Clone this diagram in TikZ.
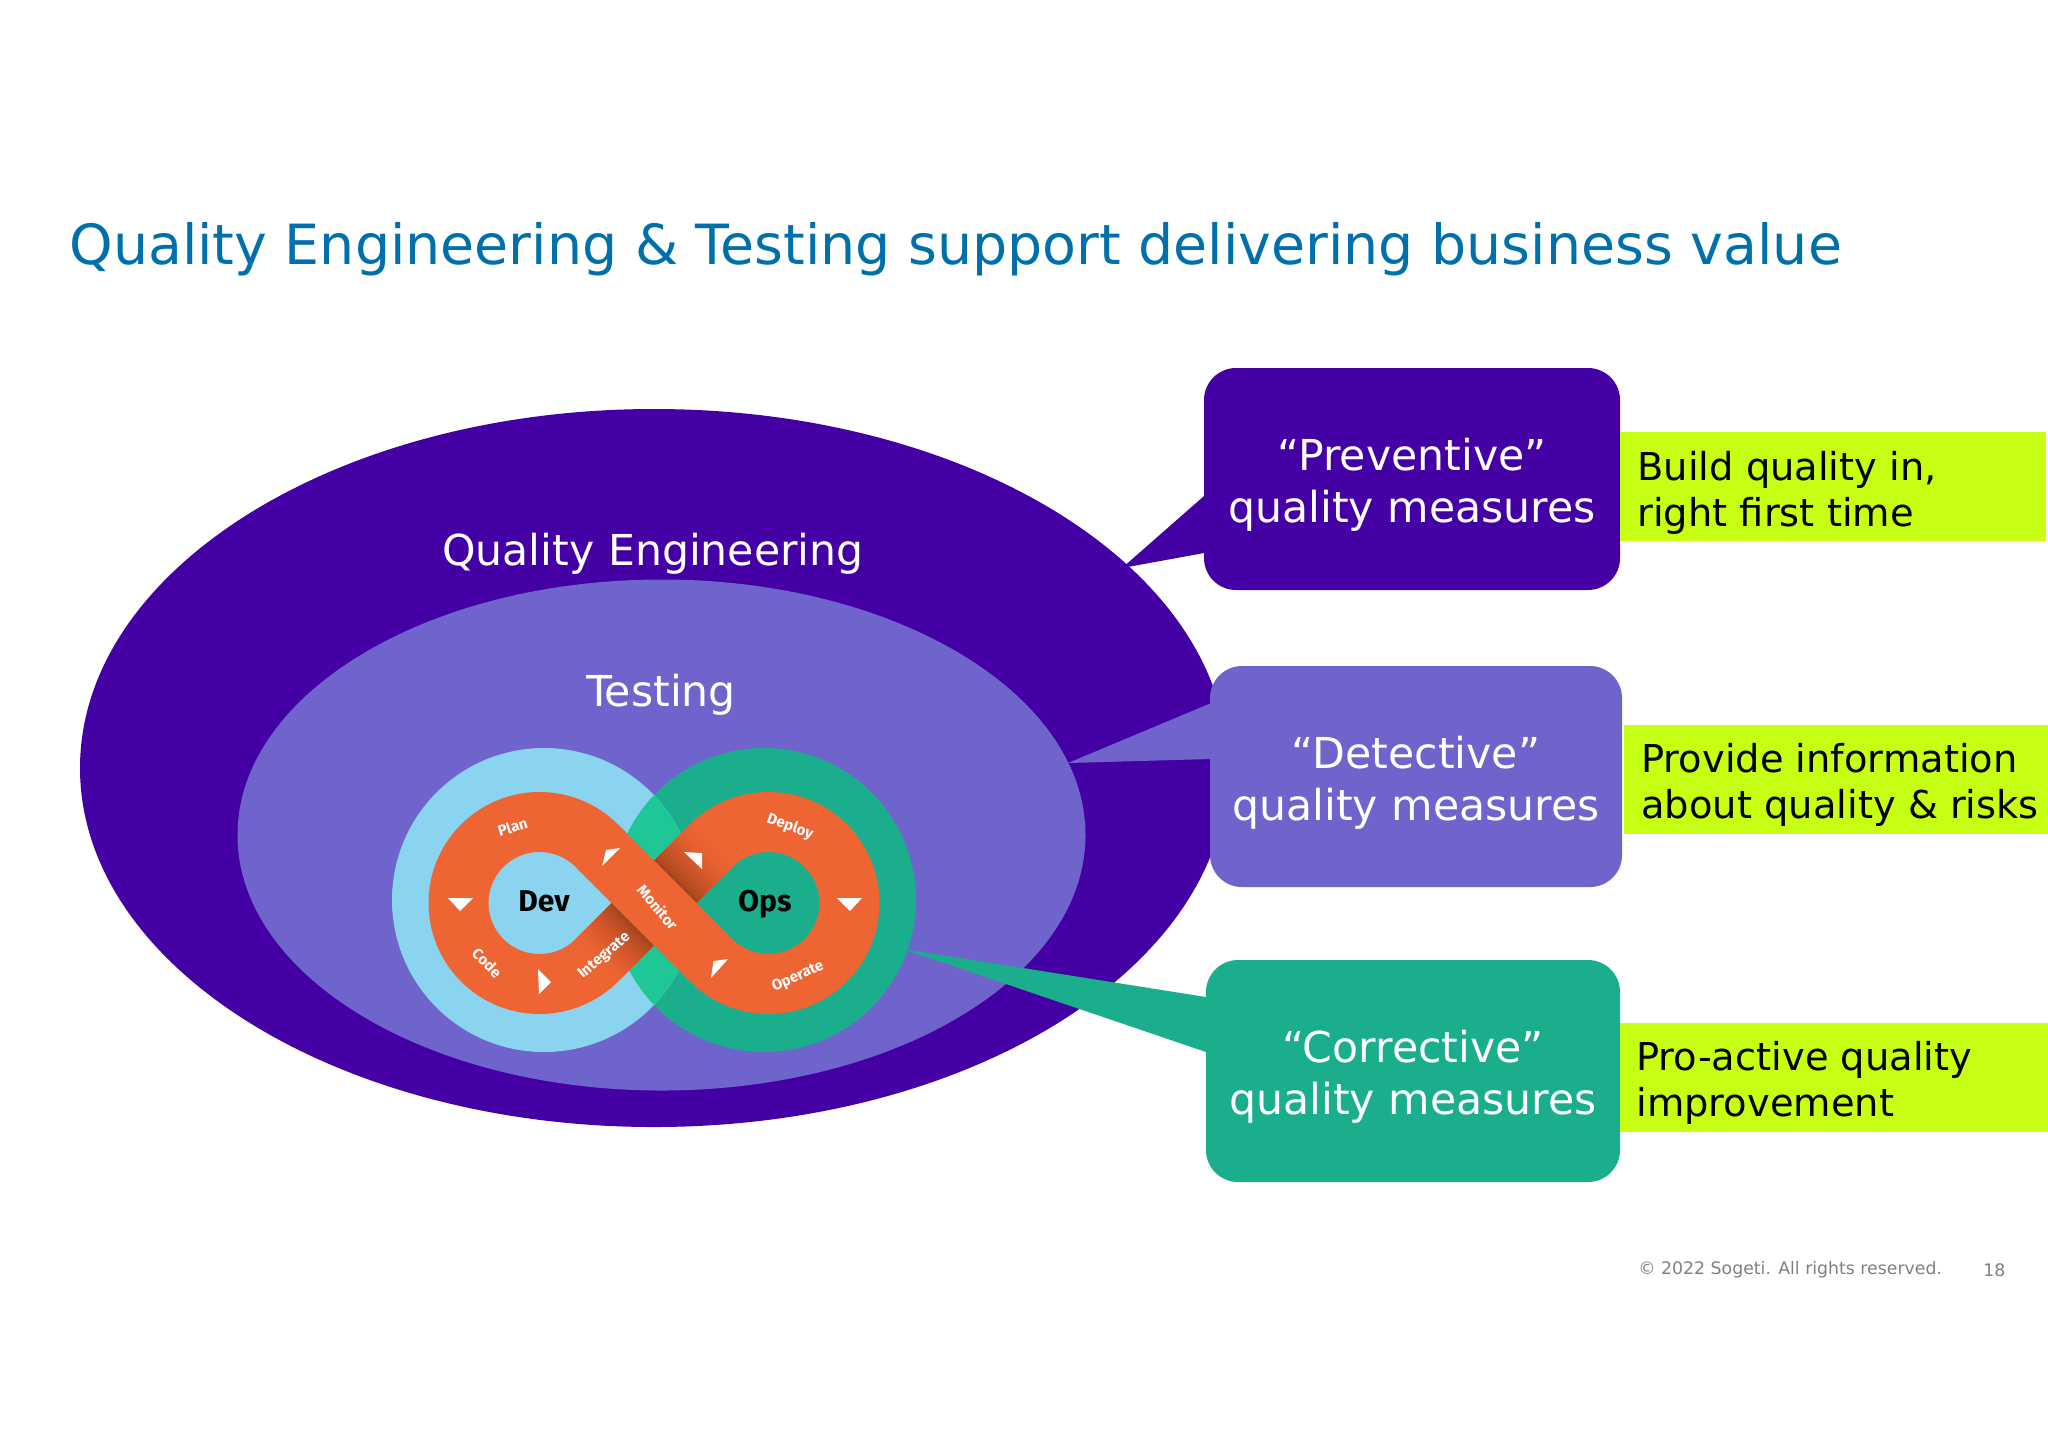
\documentclass[tikz,border=0pt]{standalone}
\usepackage{fontspec}
\setmainfont{DejaVu Sans}
\newfontfamily\logof{Fira Sans}
\usetikzlibrary{shapes.geometric}
\definecolor{qeC}{HTML}{4400A5}
\definecolor{tsC}{HTML}{6F63CC}
\definecolor{tealC}{HTML}{1BAE8D}
\definecolor{lensC}{HTML}{1FC796}
\definecolor{skyC}{HTML}{8BD4F0}
\definecolor{orC}{HTML}{EF6433}
\definecolor{brC}{HTML}{A8451E}
\definecolor{limeC}{HTML}{C6FF14}
\definecolor{titleC}{HTML}{0070AD}
\definecolor{footC}{HTML}{7F7F7F}
\tikzset{
  mycall/.style={rounded corners=16pt,minimum width=#1,text=white,align=center,inner sep=0pt,
    font=\fontsize{21.3}{26}\selectfont},
  mylime/.style={fill=limeC,inner sep=0pt,minimum height=54.5pt,anchor=west},
  limetext/.style={anchor=west,align=left,inner sep=0pt,text=black,font=\fontsize{19.2}{23}\selectfont},
  myarea/.style={text=white,inner sep=0pt,font=\fontsize{21.3}{26}\selectfont},
  mystage/.style={text=white,inner sep=0pt,font=\logof\bfseries\fontsize{7.5}{8}\selectfont},
  myhub/.style={text=black,inner sep=0pt,font=\logof\bfseries\fontsize{15}{16}\selectfont},
  mytri/.style={fill=white,draw=none},
  myfoot/.style={text=footC,inner sep=0pt,font=\fontsize{8.65}{10}\selectfont}
}
\begin{document}
\begin{tikzpicture}[x=0.5pt,y=-0.5pt]
\useasboundingbox (0,0) rectangle (2048,1448);
\node[anchor=west,inner sep=0pt,text=titleC,font=\fontsize{27.7}{32}\selectfont] (title) at (69,249) {Quality Engineering \& Testing support delivering business value};
% outer ellipse and its callout
\node[ellipse,fill=qeC,inner sep=0pt,minimum width=574pt,minimum height=359pt] (qe) at (654,768) {};
\fill[qeC] (1122,568) -- (1204,496) -- (1250,500) -- (1250,545) -- (1204,553) -- cycle;
\node[mycall=208pt,fill=qeC,minimum height=111pt] (prev) at (1412,479) {};
\node[text=white,align=center,inner sep=0pt,font=\fontsize{21.3}{26}\selectfont] (prevt) at (1412,485) {“Preventive”\\quality measures};
% inner ellipse and its callout
\node[ellipse,fill=tsC,inner sep=0pt,minimum width=424pt,minimum height=255.5pt] (ts) at (661.5,835) {};
\fill[tsC] (1068,763) -- (1210,703.5) -- (1250,703.5) -- (1250,758) -- (1210,759) -- cycle;
\node[mycall=206pt,fill=tsC,minimum height=110.5pt] (det) at (1416,776.5) {};
\node[text=white,align=center,inner sep=0pt,font=\fontsize{21.3}{26}\selectfont] (dett) at (1416,782.5) {“Detective”\\quality measures};
\node[myarea] (qelabel) at (653,554) {Quality Engineering};
\node[myarea] (tslabel) at (661,695) {Testing};
% infinity
\node[circle,fill=tealC,inner sep=0pt,minimum size=152pt] (ops) at (764,900) {};
\node[circle,fill=skyC,inner sep=0pt,minimum size=152pt] (dev) at (544,900) {};
\begin{scope}
  \clip (544,900) circle [radius=152];
  \fill[lensC] (764,900) circle [radius=152];
\end{scope}
\begin{scope}[shift={(2.5,1)}]
\draw[orC,line width=30pt,line join=round]
  (594.3,844.7) arc[start angle=45,end angle=315,radius=40.5pt]
  -- (708.7,844.7) arc[start angle=135,end angle=-135,radius=40.5pt] -- cycle;
\begin{scope}[shift={(651.5,902)},rotate=45]
  \foreach \i in {0,...,17}{
    \pgfmathsetmacro{\pct}{100*(1-\i/18)*(1-\i/18)}
    \pgfmathsetmacro{\aa}{30+\i*3.4}
    \pgfmathsetmacro{\bb}{\aa+3.6}
    \fill[brC!\pct!orC] (\aa,-30) rectangle (\bb,30);
    \fill[brC!\pct!orC] (-\aa,-30) rectangle (-\bb,30);
  }
\end{scope}
\draw[orC,line width=30pt] (594.3,844.7) -- (708.7,959.3);
\end{scope}
\node[myhub] (devt) at (544,901) {Dev};
\node[myhub] (opst) at (765,904) {Ops};
\node[mystage,rotate=18] (plan) at (512.5,827) {Plan};
\node[mystage,rotate=-20] (deploy) at (790,827) {Deploy};
\node[mystage,rotate=-45] (code) at (487,963) {Code};
\node[mystage,rotate=40] (integrate) at (604.5,956) {Integrate};
\node[mystage,rotate=25] (operate) at (798,977) {Operate};
\node[mystage,rotate=-50] (monitor) at (658,907) {Monitor};
\fill[mytri] (448,898) -- (473,898) -- (460,911) -- cycle;
\fill[mytri] (837,898) -- (862,898) -- (850,911) -- cycle;
\fill[mytri] (538,969) -- (551,982) -- (539,994) -- cycle;
\fill[mytri] (602,866) -- (606,850) -- (620,848) -- cycle;
\fill[mytri] (684,852) -- (702,853) -- (702,869) -- cycle;
\fill[mytri] (711,978) -- (713.5,961) -- (728,959) -- cycle;
% corrective callout
\fill[tealC] (903,949) -- (1206,997) -- (1250,997) -- (1250,1052) -- (1206,1052) -- cycle;
\node[mycall=207pt,fill=tealC,minimum height=111pt] (corr) at (1413,1071) {};
\node[text=white,align=center,inner sep=0pt,font=\fontsize{21.3}{26}\selectfont] (corrt) at (1413,1077) {“Corrective”\\quality measures};
% lime labels
\node[mylime,minimum width=213pt] (l1) at (1620,486.5) {};
\node[mylime,minimum width=212pt] (l2) at (1624,779.5) {};
\node[mylime,minimum width=214pt] (l3) at (1620,1077.5) {};
\node[limetext] (t1) at (1637,493) {Build quality in,\\right first time};
\node[limetext] (t2) at (1641,785) {Provide information\\about quality \& risks};
\node[limetext] (t3) at (1636,1083) {Pro-active quality\\improvement};
\node[myfoot,anchor=west] (copy) at (1638,1270) {© 2022 Sogeti. All rights reserved.};
\node[myfoot,anchor=west] (page) at (1983,1270) {18};
\end{tikzpicture}
\end{document}
